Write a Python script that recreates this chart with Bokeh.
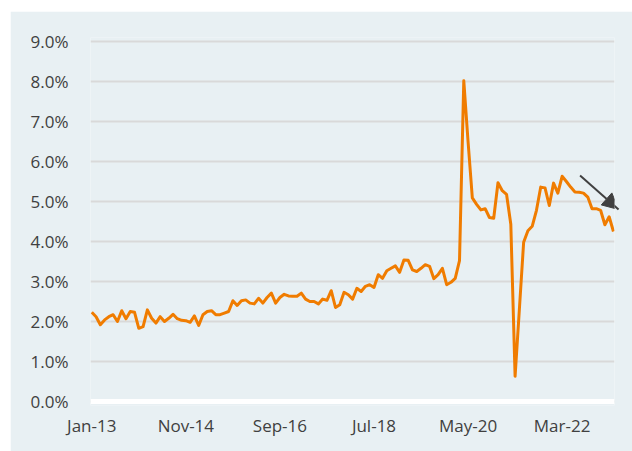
from bokeh.plotting import figure
from bokeh.models import Range1d, FixedTicker, PrintfTickFormatter, Span, Arrow, NormalHead
from bokeh.embed import file_html
from bokeh.resources import INLINE

# Monthly series, Jan-13 .. Mar-23 (percent)
values = [
    2.23, 2.12, 1.92, 2.04, 2.12, 2.17, 2.00, 2.27, 2.07, 2.25, 2.23, 1.83,
    1.87, 2.29, 2.08, 1.96, 2.12, 2.00, 2.08, 2.18, 2.07, 2.03, 2.02, 1.98,
    2.14, 1.90, 2.17, 2.25, 2.27, 2.17, 2.17, 2.21, 2.25, 2.52, 2.40, 2.52,
    2.54, 2.46, 2.44, 2.58, 2.46, 2.60, 2.71, 2.46, 2.60, 2.68, 2.64, 2.63,
    2.63, 2.71, 2.56, 2.50, 2.50, 2.44, 2.56, 2.53, 2.77, 2.35, 2.42, 2.73,
    2.67, 2.56, 2.83, 2.75, 2.88, 2.92, 2.85, 3.17, 3.08, 3.27, 3.33, 3.39,
    3.23, 3.54, 3.53, 3.29, 3.25, 3.33, 3.42, 3.38, 3.07, 3.17, 3.33, 2.92,
    2.98, 3.08, 3.52, 8.02, 6.50, 5.09, 4.93, 4.79, 4.82, 4.60, 4.58, 5.47,
    5.27, 5.18, 4.43, 0.63, 2.30, 3.98, 4.27, 4.38, 4.78, 5.36, 5.34, 4.90,
    5.46, 5.21, 5.63, 5.50, 5.36, 5.24, 5.23, 5.21, 5.11, 4.82, 4.82, 4.78,
    4.42, 4.62, 4.25,
]
months = list(range(len(values)))

tick_positions = [0, 22, 44, 66, 88, 110]
tick_labels = ["Jan-13", "Nov-14", "Sep-16", "Jul-18", "May-20", "Mar-22"]
y_ticks = [0, 1, 2, 3, 4, 5, 6, 7, 8, 9]

# trend arrow (month index, percent)
arrow_start = (114.2, 5.65)
arrow_end = (123.2, 4.80)

BG = "#e8f0f3"
TXT = "#404040"
FONT = "Open Sans"

p = figure(width=622, height=440, output_backend="svg", toolbar_location=None,
           x_range=Range1d(-0.3, 122.25), y_range=Range1d(-0.1, 9.1),
           min_border_left=80, min_border_right=18, min_border_top=26, min_border_bottom=46)
p.margin = (11, 0, 0, 10)
p.background_fill_color = BG
p.border_fill_color = BG
p.outline_line_color = None

p.xgrid.grid_line_color = None
p.ygrid.grid_line_color = "#d9d9d9"
p.ygrid.grid_line_width = 2

p.xaxis.ticker = FixedTicker(ticks=tick_positions)
p.xaxis.major_label_overrides = {t: l for t, l in zip(tick_positions, tick_labels)}
p.yaxis.ticker = FixedTicker(ticks=y_ticks)
p.yaxis.formatter = PrintfTickFormatter(format="%.1f%%")

for ax in (p.xaxis, p.yaxis):
    ax.axis_line_color = None
    ax.major_tick_line_color = None
    ax.minor_tick_line_color = None
    ax.major_tick_out = 0
    ax.major_tick_in = 0
    ax.major_label_text_font = FONT
    ax.major_label_text_font_size = "17px"
    ax.major_label_text_color = TXT
p.yaxis.major_label_standoff = 22
p.xaxis.major_label_standoff = 8

zero = Span(location=0, dimension="width", line_color="white", line_width=5)
p.add_layout(zero)

p.line(months, values, line_color="#f07c00", line_width=3, line_join="round")

p.add_layout(Arrow(x_start=arrow_start[0], y_start=arrow_start[1],
                   x_end=arrow_end[0], y_end=arrow_end[1],
                   line_color=TXT, line_width=2,
                   end=NormalHead(size=16, fill_color=TXT, line_color=TXT)))

open("out.html", "w").write(file_html(p, INLINE))
